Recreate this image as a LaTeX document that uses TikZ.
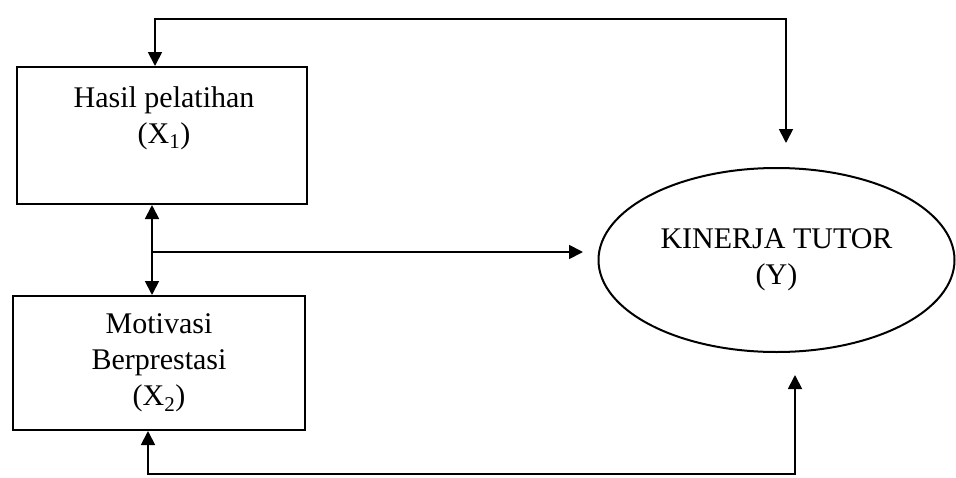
\documentclass[tikz,border=0pt]{standalone}
\usepackage{fontspec}
\setmainfont{Liberation Serif}
\usetikzlibrary{arrows.meta,shapes.geometric,calc}
\tikzset{
  line/.style={line width=1.8pt},
  boxnode/.style={draw,line width=2pt,rectangle,inner sep=0pt},
  txt/.style={align=center,font=\fontsize{30}{36}\selectfont,inner sep=0pt},
  arr/.style={line,-{Triangle[length=14pt,width=14pt]}},
  arrboth/.style={line,{Triangle[length=14pt,width=14pt]}-{Triangle[length=14pt,width=14pt]}},
}
\begin{document}
\begin{tikzpicture}[x=1pt,y=-1pt]
\useasboundingbox (0,0) rectangle (956,477);
% boxes
\node[boxnode,minimum width=290pt,minimum height=137pt] (b1) at (162,135.5) {};
\node[txt] (t1) at (164,118) {Hasil pelatihan\\(X\textsubscript{1})};
\node[boxnode,minimum width=292pt,minimum height=134pt,txt,draw,line width=2pt] (b2) at (159,363) {Motivasi\\Berprestasi\\(X\textsubscript{2})};
% ellipse
\node[ellipse,draw,line width=2pt,minimum width=356pt,minimum height=184pt,txt] (y) at (776.5,260) {KINERJA TUTOR\\(Y)};
% free ends
\coordinate (ytop) at (786,143);
\coordinate (yleft) at (583,252);
\coordinate (ybot) at (795,375);
\coordinate (mid) at (152,252);
% connectors
\draw[arrboth] ($(b1.north)+(-7,0)$) |- (786,19) -- (ytop);
\draw[arrboth] (b1.south -| mid) -- (b2.north -| mid);
\draw[arr] (mid) -- (yleft);
\draw[arrboth] ($(b2.south)+(-11,0)$) |- (795,474) -- (ybot);
\end{tikzpicture}
\end{document}
